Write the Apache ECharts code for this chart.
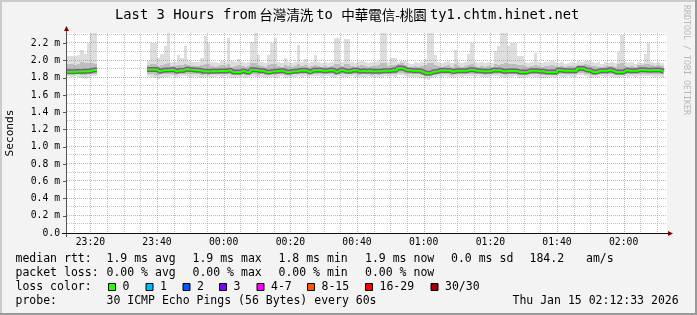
<!DOCTYPE html>
<html><head><meta charset="utf-8">
<script src="https://cdn.jsdelivr.net/npm/echarts@6/dist/echarts.min.js"></script>
<style>html,body{margin:0;padding:0;background:#f3f3f3}#c{width:697px;height:315px}</style>
</head><body><div id="c"></div>
<script>
// ---- data ----
const startMinute = 13;          // minutes after 23:00 -> 23:13
const spanMinutes = 180;
const timeLabels = ['23:20','23:40','00:00','00:20','00:40','01:00','01:20','01:40','02:00'];
const timeLabelMinutes = [20,40,60,80,100,120,140,160,180];
const yTickValues = [0,0.2,0.4,0.6,0.8,1.0,1.2,1.4,1.6,1.8,2.0,2.2];

// per-minute values (ms), index 0 = 23:13
const medianMs = [
 1.870,1.870,1.872,1.872,1.875,1.875,1.878,1.890,1.892,
 null,null,null,null,null,null,null,null,null,null,null,null,null,null,null,
 1.898,1.898,1.896,1.875,1.888,1.890,1.890,1.896,1.875,1.888,
 1.886,1.903,1.896,1.894,1.889,1.888,1.876,1.875,1.874,1.878,
 1.876,1.878,1.879,1.878,1.890,1.867,1.868,1.867,1.882,1.867,
 1.868,1.894,1.892,1.882,1.883,1.867,1.868,1.875,1.876,1.882,
 1.883,1.867,1.868,1.875,1.876,1.886,1.887,1.886,1.867,1.890,
 1.889,1.891,1.882,1.883,1.890,1.889,1.867,1.890,1.891,1.875,
 1.876,1.890,1.889,1.875,1.882,1.876,1.882,1.875,1.876,1.875,
 1.882,1.883,1.882,1.890,1.889,1.913,1.910,1.890,1.889,1.882,
 1.883,1.882,1.867,1.852,1.853,1.871,1.872,1.886,1.887,1.886,
 1.885,1.871,1.882,1.883,1.882,1.883,1.894,1.893,1.882,1.883,
 1.875,1.876,1.875,1.890,1.889,1.890,1.875,1.876,1.882,1.880,
 1.879,1.867,1.868,1.867,1.882,1.883,1.882,1.875,1.876,1.867,
 1.868,1.867,1.866,1.890,1.886,1.882,1.882,1.883,1.882,1.909,
 1.908,1.890,1.889,1.867,1.868,1.882,1.883,1.882,1.894,1.882,
 1.867,1.868,1.867,1.890,1.882,1.883,1.882,1.894,1.893,1.890,
 1.889,1.890,1.891,1.890,1.875,
 null,null];
const maxMs = [
 2.05,2.05,2.05,2.06,2.12,2.08,2.20,2.32,2.32,
 null,null,null,null,null,null,null,null,null,null,null,null,null,null,null,
 1.99,2.20,2.20,2.03,2.08,2.17,2.32,1.98,1.98,2.07,
 2.03,2.17,2.00,1.98,1.98,1.98,2.03,2.28,2.20,1.98,
 1.98,1.97,1.99,1.98,2.26,1.99,1.98,2.02,1.98,1.97,
 1.98,2.22,2.32,2.06,1.98,1.97,2.06,2.20,2.26,1.98,
 1.97,2.03,1.98,1.97,1.98,2.18,1.98,2.02,1.97,1.98,
 2.07,1.98,1.97,1.98,1.97,1.98,2.26,2.26,1.98,2.25,
 2.25,1.98,1.97,1.98,1.99,1.98,1.97,1.98,1.98,2.00,
 2.32,2.32,1.98,2.03,2.03,1.98,1.99,2.00,1.97,1.96,
 1.98,1.97,1.98,2.02,2.32,2.32,2.06,1.98,1.97,1.98,
 2.00,1.97,2.12,1.98,1.97,1.98,2.08,2.20,1.98,1.97,
 1.98,1.97,1.98,1.97,2.11,2.17,2.32,2.32,2.17,2.20,
 2.20,2.05,2.05,1.98,1.97,1.98,2.09,1.98,1.97,1.98,
 1.98,2.00,1.98,1.97,1.98,1.96,1.97,1.98,1.97,2.00,
 1.98,1.99,2.00,1.98,1.97,1.98,1.96,1.98,1.97,1.98,
 1.97,2.10,2.30,1.98,1.97,1.98,1.96,1.98,1.97,2.08,
 2.20,1.98,1.97,1.98,1.97,
 null,null];
const hiMs = [
 1.96,1.96,1.95,1.96,1.98,1.97,1.97,1.97,1.96,
 null,null,null,null,null,null,null,null,null,null,null,null,null,null,null,
 1.95,1.96,1.96,1.94,1.95,1.96,1.97,1.94,1.94,1.95,
 1.95,1.96,1.95,1.94,1.94,1.94,1.95,1.96,1.96,1.94,
 1.93,1.94,1.95,1.94,1.96,1.93,1.94,1.95,1.94,1.93,
 1.94,1.97,1.97,1.95,1.94,1.93,1.95,1.96,1.96,1.94,
 1.93,1.95,1.94,1.93,1.94,1.96,1.94,1.95,1.93,1.94,
 1.95,1.94,1.93,1.94,1.93,1.94,1.96,1.96,1.94,1.96,
 1.96,1.94,1.93,1.94,1.95,1.94,1.93,1.94,1.94,1.95,
 1.97,1.97,1.94,1.95,1.95,1.96,1.97,1.95,1.93,1.93,
 1.94,1.93,1.94,1.95,1.97,1.97,1.95,1.94,1.93,1.94,
 1.95,1.93,1.96,1.94,1.93,1.94,1.95,1.96,1.94,1.93,
 1.94,1.93,1.94,1.93,1.96,1.95,1.96,1.97,1.96,1.96,
 1.96,1.95,1.95,1.94,1.93,1.94,1.95,1.94,1.93,1.94,
 1.94,1.95,1.94,1.93,1.94,1.93,1.94,1.94,1.93,1.95,
 1.95,1.96,1.95,1.94,1.94,1.93,1.93,1.94,1.94,1.94,
 1.93,1.96,1.97,1.94,1.93,1.94,1.93,1.95,1.95,1.96,
 1.96,1.95,1.94,1.95,1.94,
 null,null];
const loMs = [
 1.840,1.840,1.845,1.840,1.835,1.830,1.840,1.845,1.845,
 null,null,null,null,null,null,null,null,null,null,null,null,null,null,null,
 1.845,1.840,1.835,1.830,1.840,1.845,1.840,1.845,1.835,1.840,
 1.845,1.850,1.845,1.840,1.845,1.840,1.835,1.840,1.835,1.840,
 1.840,1.845,1.840,1.845,1.840,1.835,1.830,1.835,1.840,1.830,
 1.835,1.845,1.840,1.835,1.840,1.830,1.835,1.840,1.835,1.840,
 1.845,1.830,1.835,1.840,1.840,1.845,1.840,1.845,1.830,1.845,
 1.845,1.850,1.840,1.845,1.845,1.840,1.830,1.845,1.845,1.840,
 1.840,1.845,1.840,1.835,1.840,1.840,1.845,1.835,1.840,1.835,
 1.840,1.845,1.840,1.845,1.845,1.860,1.855,1.845,1.845,1.840,
 1.845,1.840,1.830,1.820,1.820,1.835,1.835,1.845,1.840,1.845,
 1.840,1.835,1.840,1.845,1.840,1.845,1.845,1.850,1.840,1.845,
 1.840,1.835,1.840,1.845,1.845,1.850,1.840,1.835,1.840,1.840,
 1.845,1.830,1.835,1.830,1.840,1.845,1.840,1.840,1.835,1.830,
 1.830,1.835,1.830,1.845,1.840,1.840,1.845,1.840,1.840,1.855,
 1.855,1.845,1.840,1.830,1.835,1.840,1.845,1.840,1.845,1.840,
 1.835,1.830,1.835,1.845,1.840,1.845,1.840,1.845,1.845,1.845,
 1.845,1.845,1.840,1.845,1.840,
 null,null];
const minMs = [
 1.820,1.815,1.820,1.810,1.800,1.790,1.800,1.820,1.820,
 null,null,null,null,null,null,null,null,null,null,null,null,null,null,null,
 1.820,1.810,1.795,1.790,1.800,1.810,1.810,1.820,1.800,1.815,
 1.820,1.820,1.815,1.810,1.820,1.815,1.800,1.810,1.805,1.815,
 1.815,1.820,1.810,1.820,1.815,1.800,1.800,1.805,1.810,1.800,
 1.805,1.820,1.810,1.805,1.810,1.800,1.805,1.810,1.800,1.815,
 1.820,1.800,1.805,1.815,1.810,1.820,1.815,1.820,1.800,1.820,
 1.820,1.825,1.815,1.820,1.820,1.810,1.800,1.820,1.815,1.810,
 1.810,1.820,1.815,1.805,1.810,1.815,1.820,1.810,1.815,1.810,
 1.815,1.820,1.810,1.820,1.815,1.830,1.830,1.820,1.815,1.810,
 1.815,1.810,1.800,1.785,1.780,1.800,1.810,1.820,1.815,1.820,
 1.810,1.805,1.815,1.820,1.810,1.820,1.820,1.825,1.810,1.820,
 1.810,1.805,1.815,1.820,1.820,1.825,1.810,1.800,1.810,1.815,
 1.820,1.800,1.800,1.805,1.810,1.820,1.810,1.815,1.800,1.800,
 1.800,1.805,1.800,1.820,1.815,1.810,1.820,1.815,1.810,1.830,
 1.830,1.820,1.810,1.800,1.805,1.810,1.820,1.810,1.820,1.815,
 1.805,1.800,1.805,1.820,1.810,1.820,1.815,1.820,1.820,1.820,
 1.820,1.820,1.815,1.820,1.810,
 null,null];

// legend texts
const titleParts = ['Last 3 Hours from', ' 台灣清洗 ', 'to ', '中華電信-桃園 ', 'ty1.chtm.hinet.net'];
const rttStats = ['1.9 ms avg','1.9 ms max','1.8 ms min','1.9 ms now','0.0 ms sd','184.2','am/s'];
const lossStats = ['0.00 % avg','0.00 % max','0.00 % min','0.00 % now'];
const lossColorLabels = ['0','1','2','3','4-7','8-15','16-29','30/30'];
const lossColors = ['#26ff00','#00b8ff','#0059ff','#7e00ff','#ff00ff','#ff5500','#ff0000','#a10000'];
const probeText = '30 ICMP Echo Pings (56 Bytes) every 60s';
const dateText = 'Thu Jan 15 02:12:33 2026';

// ---- layout ----
const MONO = "'DejaVu Sans Mono', monospace";
const CJK = "'Noto Sans CJK TC', 'Noto Sans CJK SC', sans-serif";
const rttStatX = [106.5, 192.5, 278.5, 365, 451, 529.5, 586];
const lossStatX = [106.5, 192.5, 278.5, 365];
const lossBoxX = [108, 145.5, 182.5, 219, 256.5, 307, 365, 430.5];
const rowY = [259.5, 273.5, 287.5, 301.5];

function bandSeries(loArr, hiArr, color, z) {
  const data = [];
  for (let i = 0; i < loArr.length; i++) {
    if (loArr[i] == null || hiArr[i] == null) continue;
    const x0 = startMinute + i;
    data.push([x0, x0 + 1, loArr[i], hiArr[i]]);
  }
  return {
    type: 'custom', silent: true, z, clip: true, data,
    encode: { x: [0, 1], y: [2, 3] },
    renderItem(params, api) {
      const a = api.coord([api.value(0), api.value(3)]);
      const b = api.coord([api.value(1), api.value(2)]);
      const x0 = Math.round(a[0]), x1 = Math.round(b[0]);
      const y0 = Math.round(a[1]), y1 = Math.round(b[1]);
      return { type: 'rect', shape: { x: x0, y: y0, width: x1 - x0, height: Math.max(1, y1 - y0) }, style: { fill: color } };
    }
  };
}
function stepPoints(arr) {
  const pts = [];
  for (let i = 0; i < arr.length; i++) {
    const x = startMinute + i;
    if (arr[i] == null) { pts.push([x, null]); continue; }
    pts.push([x, arr[i]], [x + 1, arr[i]]);
  }
  return pts;
}
function gridSeries(values, vertical, color, z) {
  return {
    type: 'custom', silent: true, z,
    data: values.map(v => vertical ? [v, 0] : [startMinute, v]),
    renderItem(params, api) {
      const cs = params.coordSys;
      const p = api.coord([api.value(0), api.value(1)]);
      let shape;
      if (vertical) { const px = Math.round(p[0]) + 0.5; shape = { x1: px, y1: cs.y, x2: px, y2: cs.y + cs.height }; }
      else { const py = Math.round(p[1]) - 0.5; shape = { x1: cs.x, y1: py, x2: cs.x + cs.width, y2: py }; }
      return { type: 'line', shape, style: { stroke: color, lineWidth: 1, lineDash: [1, 1] } };
    }
  };
}
const minorX = [], majorX = [];
for (let m = 15; m < startMinute + spanMinutes; m += 5) (m % 20 === 0 ? majorX : minorX).push(m);
const minorY = [], majorY = [];
for (let k = 1; k <= 23; k++) (k % 2 === 0 ? majorY : minorY).push(k / 10);

const graphics = [
  { type: 'rect', shape: { x: 0, y: 0, width: 697, height: 2 }, style: { fill: '#cbcbcb' } },
  { type: 'rect', shape: { x: 0, y: 0, width: 2, height: 315 }, style: { fill: '#cbcbcb' } },
  { type: 'rect', shape: { x: 0, y: 313, width: 697, height: 2 }, style: { fill: '#999999' } },
  { type: 'rect', shape: { x: 695, y: 0, width: 2, height: 315 }, style: { fill: '#999999' } },
  { type: 'line', shape: { x1: 66.5, y1: 237, x2: 66.5, y2: 30 }, style: { stroke: '#555', lineWidth: 1 }, z: 20 },
  { type: 'polygon', shape: { points: [[64, 31], [69, 31], [66.5, 26]] }, style: { fill: '#7f0000' }, z: 20 },
  { type: 'line', shape: { x1: 62, y1: 233.5, x2: 669, y2: 233.5 }, style: { stroke: '#111', lineWidth: 1 }, z: 20 },
  { type: 'polygon', shape: { points: [[668, 231], [668, 236], [673, 233.5]] }, style: { fill: '#7f0000' }, z: 20 },
  { type: 'text', x: 10.5, y: 133, rotation: Math.PI / 2, style: { text: 'Seconds', fontFamily: MONO, fontSize: 11.2, fill: '#000', align: 'center', verticalAlign: 'middle' } },
  { type: 'text', x: 686, y: 5, rotation: -Math.PI / 2, style: { text: 'RRDTOOL / TOBI OETIKER', fontFamily: MONO, fontSize: 8.3, fill: '#b8b8b8', align: 'left', verticalAlign: 'middle' } },
  { type: 'text', x: 15.5, y: rowY[0], style: { text: 'median rtt:', fontFamily: MONO, fontSize: 11.5, fill: '#000', verticalAlign: 'middle' } },
  { type: 'text', x: 15.5, y: rowY[1], style: { text: 'packet loss:', fontFamily: MONO, fontSize: 11.5, fill: '#000', verticalAlign: 'middle' } },
  { type: 'text', x: 15.5, y: rowY[2], style: { text: 'loss color:', fontFamily: MONO, fontSize: 11.5, fill: '#000', verticalAlign: 'middle' } },
  { type: 'text', x: 15.5, y: rowY[3], style: { text: 'probe:', fontFamily: MONO, fontSize: 11.5, fill: '#000', verticalAlign: 'middle' } },
  { type: 'text', x: 106.5, y: rowY[3], style: { text: probeText, fontFamily: MONO, fontSize: 11.5, fill: '#000', verticalAlign: 'middle' } },
  { type: 'text', x: 512.5, y: rowY[3], style: { text: dateText, fontFamily: MONO, fontSize: 11.5, fill: '#000', verticalAlign: 'middle' } }
];
rttStats.forEach((t, k) => graphics.push({ type: 'text', x: rttStatX[k], y: rowY[0], style: { text: t, fontFamily: MONO, fontSize: 11.5, fill: '#000', verticalAlign: 'middle' } }));
lossStats.forEach((t, k) => graphics.push({ type: 'text', x: lossStatX[k], y: rowY[1], style: { text: t, fontFamily: MONO, fontSize: 11.5, fill: '#000', verticalAlign: 'middle' } }));
lossColorLabels.forEach((t, k) => {
  graphics.push({ type: 'rect', shape: { x: lossBoxX[k] + 0.5, y: 283.5, width: 7, height: 7 }, style: { fill: lossColors[k], stroke: '#000', lineWidth: 1 } });
  graphics.push({ type: 'text', x: lossBoxX[k] + 14.5, y: rowY[2], style: { text: t, fontFamily: MONO, fontSize: 11.5, fill: '#000', verticalAlign: 'middle' } });
});

const chart = echarts.init(document.getElementById('c'), null, { renderer: 'canvas' });
chart.setOption({
  animation: false,
  backgroundColor: '#f3f3f3',
  title: {
    left: 115, top: 6, padding: 0,
    text: '{a|' + titleParts[0] + '}{c|' + titleParts[1] + '}{a|' + titleParts[2] + '}{c|' + titleParts[3] + '}{a|' + titleParts[4] + '}',
    textStyle: { fontWeight: 'normal', rich: {
      a: { fontFamily: MONO, fontSize: 13.8, fontWeight: 'normal', color: '#000', lineHeight: 18 },
      c: { fontFamily: CJK, fontSize: 13.5, fontWeight: 'normal', color: '#000', lineHeight: 18 }
    } }
  },
  grid: { left: 67, top: 33, width: 600, height: 200, show: true, backgroundColor: '#ffffff', borderWidth: 0 },
  xAxis: {
    type: 'value', min: startMinute, max: startMinute + spanMinutes,
    axisLine: { show: false }, axisTick: { show: false }, splitLine: { show: false },
    axisLabel: {
      customValues: timeLabelMinutes,
      formatter: v => timeLabels[timeLabelMinutes.indexOf(v)] || '',
      fontFamily: MONO, fontSize: 9.75, color: '#000', margin: 4
    }
  },
  yAxis: {
    type: 'value', min: 0, max: 2.32,
    axisLine: { show: false }, splitLine: { show: false },
    axisTick: { show: true, customValues: yTickValues, length: 4, lineStyle: { color: '#555' } },
    axisLabel: {
      customValues: yTickValues,
      formatter: v => v === 0 ? '0.0' : v.toFixed(1) + ' m',
      fontFamily: MONO, fontSize: 9.75, color: '#000', margin: 7
    }
  },
  graphic: graphics,
  series: [
    bandSeries(minMs, maxMs, '#dedede', 1),
    bandSeries(loMs, hiMs, '#bdbdbd', 2),
    gridSeries(minorX, true, 'rgba(150,150,150,0.55)', 3),
    gridSeries(minorY, false, 'rgba(150,150,150,0.55)', 3),
    gridSeries(majorX, true, 'rgba(225,100,100,0.6)', 4),
    gridSeries(majorY, false, 'rgba(225,100,100,0.6)', 4),
    { type: 'line', data: stepPoints(medianMs), symbol: 'none', showSymbol: false, connectNulls: false, silent: true, z: 5,
      lineStyle: { color: '#6a6a6a', width: 5 } },
    { type: 'line', data: stepPoints(medianMs), symbol: 'none', showSymbol: false, connectNulls: false, silent: true, z: 6,
      lineStyle: { color: '#26ff00', width: 2 } }
  ]
});
</script></body></html>
